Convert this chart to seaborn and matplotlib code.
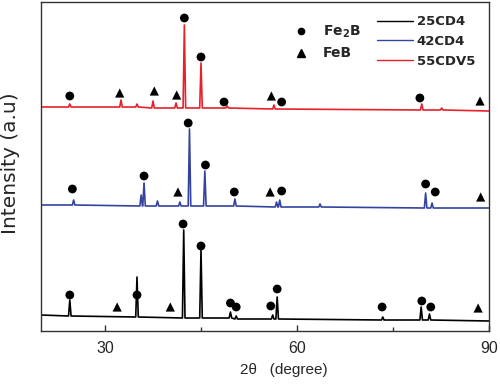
import seaborn as sns
import matplotlib.pyplot as plt
from matplotlib.lines import Line2D

sns.set_style("ticks")
plt.rcParams['font.family'] = ['Liberation Sans', 'DejaVu Sans']

# peak positions (2theta), apex intensity and local baseline (a.u.)
bk_pos = [24.5, 35.0, 42.3, 45.0, 49.6, 50.5, 56.2, 56.9, 73.4, 79.4, 80.7]
bk_top = [31, 54, 101, 81, 19, 15, 16, 34, 14, 24, 17]
bk_base = [15, 14, 13, 13, 13, 12, 12, 12, 11, 11, 11]
bk_ends = [16, 10]

bl_pos = [25.1, 35.65, 36.1, 38.2, 41.7, 43.2, 45.6, 50.3, 56.8, 57.3, 63.6, 80.1, 81.1]
bl_top = [131, 136, 148, 130, 129, 202, 160, 132, 129, 131, 127, 138, 128]
bl_base = [126, 125, 125, 125, 125, 125, 125, 125, 124, 124, 124, 123, 123]
bl_ends = [126, 123]

rd_pos = [24.5, 32.5, 35.0, 37.5, 41.1, 42.4, 45.0, 49.1, 56.4, 79.5, 82.6]
rd_top = [227, 231, 227, 230, 228, 306, 268, 225, 226, 227, 223]
rd_base = [224, 224, 224, 223, 223, 223, 223, 223, 222, 221, 221]
rd_ends = [224, 220]

# phase markers (2theta, intensity)
fe2b_x = [24.5, 35.0, 42.2, 45.0, 49.6, 50.5, 55.9, 56.9, 73.3, 79.5, 80.9,
          24.9, 36.1, 43.0, 45.7, 50.2, 57.6, 80.1, 81.6,
          24.5, 42.4, 45.0, 48.6, 57.6, 79.2]
fe2b_y = [36, 36, 107, 85, 28, 24, 25, 42, 24, 30, 24,
          142, 155, 208, 166, 139, 140, 147, 139,
          235, 313, 274, 229, 229, 233]
feb_x = [31.9, 40.2, 88.3, 41.4, 55.8, 88.7, 32.3, 37.7, 41.2, 56.0, 88.6]
feb_y = [24, 24, 23, 139, 139, 134, 238, 240, 236, 235, 230]

samples = ["25CD4", "42CD4", "55CDV5"]
colors = ["black", "#3443a0", "#e8202a"]


def trace(pos, top, base, ends, hw=0.2):
    xs, ys = [20], [ends[0]]
    for p, t, b in zip(pos, top, base):
        xs += [p - hw, p, p + hw]
        ys += [b, t, b]
    xs.append(90)
    ys.append(ends[1])
    return xs, ys


fig = plt.figure(figsize=(5, 3.86), dpi=100)
ax = fig.add_axes([41 / 500, 55 / 386, 448 / 500, 329 / 386])

data = [(bk_pos, bk_top, bk_base, bk_ends),
        (bl_pos, bl_top, bl_base, bl_ends),
        (rd_pos, rd_top, rd_base, rd_ends)]
for i, d in enumerate(data):
    xs, ys = trace(*d)
    sns.lineplot(x=xs, y=ys, ax=ax, color=colors[i], lw=1.2, sort=False)

sns.scatterplot(x=fe2b_x, y=fe2b_y, ax=ax, marker='o', s=40, color='black',
                edgecolor='none', zorder=3)
sns.scatterplot(x=feb_x, y=feb_y, ax=ax, marker='^', s=44, color='black',
                edgecolor='none', zorder=3)

ax.set(xlim=(20, 90), ylim=(0, 329))
ax.set_xticks([30, 60, 90])
ax.set_xticks([45, 75], minor=True)
ax.set_yticks([])
ax.tick_params(axis='x', which='major', direction='in', length=4, width=1,
               labelsize=11.5, pad=7, color='#333333')
ax.tick_params(axis='x', which='minor', direction='in', length=2.6, width=1,
               color='#333333')
for s in ax.spines.values():
    s.set_color('#333333')
    s.set_linewidth(1)

ax.set_xlabel("2θ   (degree)", fontsize=11)
ax.xaxis.set_label_coords(0.542, -0.098)
ax.set_ylabel("Intensity (a.u)", fontsize=14.5, family='DejaVu Sans')
ax.yaxis.set_label_coords(-0.046, 0.51)

# legends
ph = [Line2D([], [], ls='none', marker='o', ms=4.5, color='black'),
      Line2D([], [], ls='none', marker='^', ms=5.5, color='black')]
leg1 = ax.legend(ph, ["Fe$_\\mathbf{2}$B", "FeB"], loc='upper left',
                 bbox_to_anchor=(253 / 448, 0.935), frameon=False,
                 handlelength=1.0, handletextpad=1.1, labelspacing=0.48,
                 borderpad=0, borderaxespad=0,
                 prop={'family': 'DejaVu Sans', 'weight': 'bold', 'size': 10})
ax.add_artist(leg1)
lh = [Line2D([], [], color=c, lw=1) for c in colors]
ax.legend(lh, samples, loc='upper left', bbox_to_anchor=(336 / 448, 0.96),
          frameon=False, handlelength=2.7, handletextpad=0.3,
          labelspacing=0.52, borderpad=0, borderaxespad=0,
          prop={'family': 'DejaVu Sans', 'weight': 'bold', 'size': 9.5})

plt.savefig("out.png", dpi=100)
